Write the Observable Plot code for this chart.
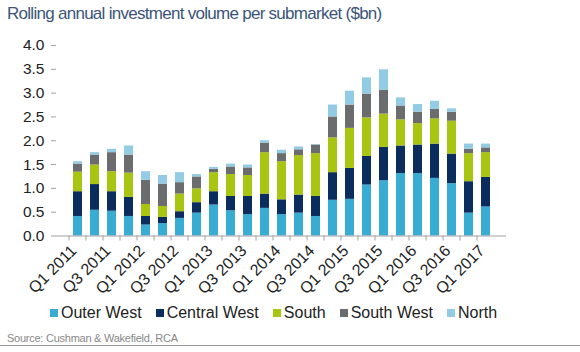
<!DOCTYPE html>
<html>
<head>
<meta charset="utf-8">
<script src="https://cdn.jsdelivr.net/npm/d3@7"></script>
<script src="https://cdn.jsdelivr.net/npm/@observablehq/plot@0.6"></script>
<style>
  html, body { margin: 0; padding: 0; background: #fff; }
  body { width: 580px; height: 352px; position: relative; overflow: hidden; font-family: "Liberation Sans", Arial, sans-serif; }
  #title { position: absolute; left: 7px; top: 4px; font-size: 17px; letter-spacing: -0.72px; color: #3b5578; white-space: nowrap; }
  #chart { position: absolute; left: 0; top: 30px; }
  #legend { position: absolute; left: 50px; top: 304px; display: flex; align-items: center; font-size: 16px; color: #222; white-space: nowrap; }
  #legend .item { display: flex; align-items: center; margin-right: 14px; }
  #legend .sw { width: 8px; height: 8px; margin-right: 3px; }
  #source { position: absolute; left: 7px; top: 332px; font-size: 11px; letter-spacing: -0.25px; color: #888; white-space: nowrap; }
  #rule { position: absolute; left: 0; top: 345px; width: 580px; height: 0; border-top: 1px solid #999; }
</style>
</head>
<body>
<div id="title">Rolling annual investment volume per submarket ($bn)</div>
<div id="chart"></div>
<div id="legend"></div>
<div id="source">Source: Cushman &amp; Wakefield, RCA</div>
<div id="rule"></div>
<script>
const quarters = [
  "Q1 2011","Q2 2011","Q3 2011","Q4 2011",
  "Q1 2012","Q2 2012","Q3 2012","Q4 2012",
  "Q1 2013","Q2 2013","Q3 2013","Q4 2013",
  "Q1 2014","Q2 2014","Q3 2014","Q4 2014",
  "Q1 2015","Q2 2015","Q3 2015","Q4 2015",
  "Q1 2016","Q2 2016","Q3 2016","Q4 2016",
  "Q1 2017"
];
const tickLabels = quarters.filter(q => q.startsWith("Q1") || q.startsWith("Q3"));
const yTicks = [0, 0.5, 1, 1.5, 2, 2.5, 3, 3.5, 4];

const seriesNames = ["Outer West", "Central West", "South", "South West", "North"];
const seriesColors = ["#38acd3", "#0b2d5e", "#a8c512", "#6b6c6e", "#92cbe4"];

const outerWest   = [0.41,0.54,0.52,0.41,0.23,0.26,0.37,0.48,0.65,0.53,0.45,0.58,0.45,0.48,0.41,0.75,0.77,1.07,1.16,1.31,1.31,1.21,1.10,0.48,0.61];
const centralWest = [0.52,0.54,0.41,0.40,0.18,0.13,0.14,0.22,0.28,0.30,0.38,0.30,0.31,0.38,0.42,0.58,0.65,0.60,0.70,0.58,0.60,0.72,0.62,0.66,0.62];
const south       = [0.41,0.41,0.42,0.51,0.25,0.23,0.37,0.29,0.40,0.46,0.44,0.87,0.80,0.83,0.90,0.73,0.84,0.81,0.70,0.55,0.45,0.53,0.69,0.59,0.52];
const southWest   = [0.17,0.21,0.40,0.38,0.51,0.47,0.24,0.25,0.07,0.16,0.16,0.20,0.17,0.12,0.18,0.44,0.49,0.50,0.50,0.29,0.24,0.20,0.19,0.09,0.10];
const north       = [0.05,0.05,0.07,0.19,0.18,0.18,0.21,0.05,0.04,0.06,0.06,0.05,0.07,0.06,0.01,0.25,0.29,0.34,0.43,0.17,0.16,0.17,0.07,0.11,0.08];

const seriesValues = [outerWest, centralWest, south, southWest, north];
const data = [];
quarters.forEach((q, i) => {
  seriesNames.forEach((s, j) => {
    data.push({quarter: q, series: s, value: seriesValues[j][i]});
  });
});

const plot = Plot.plot({
  width: 580,
  height: 272,
  marginTop: 15,
  marginBottom: 66.5,
  marginLeft: 56,
  marginRight: 74,
  style: {fontFamily: "'Liberation Sans', Arial, sans-serif", background: "#fff", overflow: "visible"},
  x: {type: "band", domain: quarters, paddingInner: 0.5, paddingOuter: 0.32},
  y: {domain: [0, 4]},
  color: {domain: seriesNames, range: seriesColors},
  marks: [
    Plot.barY(data, {x: "quarter", y: "value", fill: "series"}),
    Plot.ruleY([0], {stroke: "#a0a0a0"}),
    Plot.axisY({ticks: yTicks, tickFormat: d3.format(".1f"), tickSize: 5, tickPadding: 7, fontSize: 15.5, stroke: "#a0a0a0", fill: "#222", line: true, label: null}),
    Plot.axisX({ticks: quarters, tickFormat: () => "", tickSize: 5, dx: -9, stroke: "#a0a0a0", label: null}),
    Plot.axisX({ticks: tickLabels, tickSize: 0, tickPadding: 12, tickRotate: -45, dx: -4, fontSize: 16, fill: "#222", label: null})
  ]
});
document.getElementById("chart").appendChild(plot);

const color = plot.scale("color");
const legendEl = document.getElementById("legend");
seriesNames.forEach((name) => {
  const item = document.createElement("span");
  item.className = "item";
  const sw = document.createElement("span");
  sw.className = "sw";
  sw.style.background = color.apply(name);
  const label = document.createElement("span");
  label.textContent = name;
  item.appendChild(sw);
  item.appendChild(label);
  legendEl.appendChild(item);
});
</script>
</body>
</html>
